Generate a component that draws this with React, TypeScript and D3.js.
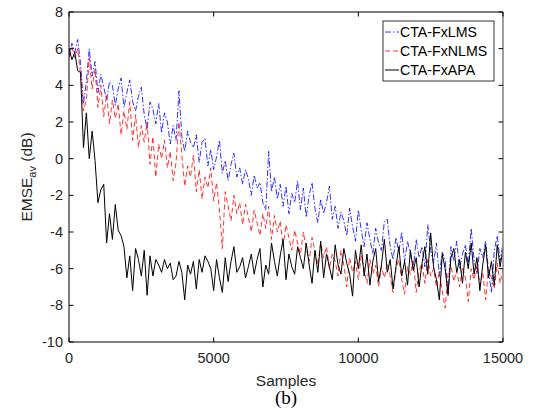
import React from "react";
import * as d3 from "d3";

// sampled every 100 samples, 0..15000
const STEP = 100;

const lmsValues = [
  5.5, 6.3, 5.8, 6.5, 5.2, 3.0, 4.2, 6.0, 4.5, 5.3,
  3.6, 4.6, 3.9, 3.2, 4.2, 4.0, 2.9, 3.8, 4.4, 2.8,
  3.6, 4.3, 3.1, 2.6, 3.4, 3.9, 2.4, 1.6, 3.1, 2.7,
  1.9, 3.0, 1.4, 2.5, 2.0, 0.8, 1.8, 1.0, 3.7, 1.2,
  0.4, 1.5, 0.9, 0.6, 1.3, -0.2, 0.9, 1.1, -0.4, 0.5,
  -0.6, 0.1, 1.0, -0.8, -0.1, -1.2, -0.3, 0.3, -1.0, -0.5,
  -1.4, -0.6, -1.1, -2.0, -0.9, -1.6, -1.3, -2.4, -2.8, 0.4,
  -1.8, -1.0, -2.2, -1.4, -2.6, -1.5, -3.0, -1.9, -2.4, -1.2,
  -2.8, -1.6, -3.2, -2.0, -1.3, -2.7, -3.5, -2.2, -3.0, -2.4,
  -1.5, -3.3, -2.6, -3.8, -2.9, -3.4, -4.2, -2.7, -3.7, -4.5,
  -2.8, -3.9, -4.8, -3.5, -4.4, -5.2, -3.8, -4.6, -5.0, -3.4,
  -3.3, -4.8, -5.5, -4.3, -5.1, -4.0, -5.6, -4.5, -5.2, -6.0,
  -4.4, -5.4, -4.8, -5.9, -3.6, -5.0, -5.7, -4.6, -6.4, -5.1,
  -5.5, -7.5, -4.8, -5.6, -4.5, -6.0, -5.2, -4.7, -5.8, -3.8,
  -5.5, -6.3, -4.9, -5.4, -4.5, -6.1, -7.3, -5.0, -4.2, -5.6,
  -4.6,
];

const nlmsValues = [
  5.7, 6.1, 5.5, 6.0, 4.6, 2.6, 3.2, 5.5, 3.8, 4.9,
  2.8, 4.0, 2.3, 3.5, 1.9, 3.2, 2.2, 3.0, 1.3, 2.6,
  1.6, 3.1, 1.0, 2.4, 0.6, 1.8, 0.9, 2.0, -0.3, 1.2,
  -1.0, 0.8, 0.0, 1.0, -0.5, 0.4, -1.2, -0.2, 2.0, 0.2,
  -1.5, -0.4, -1.0, 0.2, -1.8, -0.6, -2.2, -1.0, -1.6, -0.5,
  -2.3, -1.3, -2.8, -4.9, -1.8, -2.6, -3.4, -2.0, -3.0, -2.4,
  -3.6, -2.5, -3.2, -4.0, -2.8, -3.5, -4.2, -3.0, -3.8, -2.6,
  -4.4, -3.1, -4.0, -3.4, -4.8, -3.6, -4.3, -5.0, -3.9, -4.6,
  -5.2, -4.0, -4.9, -5.6, -4.3, -5.0, -5.8, -4.6, -5.4, -4.8,
  -6.0, -5.2, -5.6, -6.4, -5.0, -5.8, -7.0, -5.4, -6.2, -5.6,
  -6.6, -5.3, -6.0, -6.8, -5.5, -6.3, -5.8, -7.0, -5.9, -6.5,
  -5.7, -6.4, -7.3, -6.0, -5.5, -6.6, -7.4, -5.9, -6.3, -5.6,
  -7.3, -6.1, -5.7, -6.8, -5.5, -6.4, -6.0, -7.0, -6.2, -7.2,
  -8.15, -6.3, -5.8, -6.7, -6.1, -7.0, -5.9, -6.5, -7.8, -6.0,
  -6.6, -5.8, -6.9, -6.2, -7.7, -6.0, -6.5, -7.1, -5.7, -6.8,
  -6.0,
];

const apaValues = [
  6.0, 5.4, 5.8, 4.8, 4.7, 0.6, 2.5, 0.0, 1.5, -0.1,
  -2.4, -1.7, -1.4, -4.6, -3.0, -4.4, -2.5, -3.9, -4.2, -4.8,
  -6.5, -5.3, -7.2, -4.9, -5.5, -6.4, -5.0, -7.45, -5.3, -6.4,
  -5.5, -5.8, -6.2, -5.5, -6.0, -5.7, -6.6, -6.4, -5.6, -6.2,
  -7.7, -5.8, -6.3, -5.6, -7.1, -5.5, -6.2, -5.3, -5.6, -6.0,
  -7.2, -5.5, -6.5, -7.3, -5.4, -6.7, -5.6, -4.8, -6.2, -5.9,
  -5.4, -6.5, -5.9, -5.2, -6.3, -5.5, -4.9, -7.0, -5.8, -6.3,
  -4.6, -5.6, -6.4, -5.3, -4.4, -6.6, -5.2, -5.9, -6.3, -4.8,
  -5.4, -6.0, -4.6, -5.8, -6.8, -5.0, -6.2, -4.5, -6.5, -5.2,
  -5.9, -6.6, -4.7, -5.8, -6.3, -4.9, -5.7, -6.3, -7.5, -5.0,
  -6.0, -4.7, -6.4, -5.2, -6.9, -5.6, -4.9, -6.7, -5.8, -4.4,
  -6.2, -5.5, -7.1, -5.9, -4.8, -6.4, -5.6, -6.9, -5.0, -6.1,
  -5.4, -7.0, -5.7, -4.8, -6.3, -4.05, -5.9, -6.6, -7.7, -5.2,
  -6.0, -7.4, -5.4, -4.9, -6.2, -5.5, -6.8, -5.1, -6.0, -4.6,
  -6.3, -5.4, -7.2, -5.8, -4.7, -6.5, -5.6, -6.9, -4.7, -5.9,
  -4.9,
];

const xTicks = [0, 5000, 10000, 15000];
const yTicks = [-10, -8, -6, -4, -2, 0, 2, 4, 6, 8];

const series = [
  { name: "CTA-FxLMS", values: lmsValues, color: "#0000ff", dash: "6,2,1.5,2", width: 0.8 },
  { name: "CTA-FxNLMS", values: nlmsValues, color: "#ff0000", dash: "5,3", width: 0.8 },
  { name: "CTA-FxAPA", values: apaValues, color: "#000000", dash: null, width: 1 },
];

const W = 536;
const H = 410;
const margin = { top: 12, right: 33, bottom: 68, left: 69 };
const font = "Liberation Sans, Arial, sans-serif";

export default function App() {
  const x = d3.scaleLinear().domain([0, 15000]).range([margin.left, W - margin.right]);
  const y = d3.scaleLinear().domain([-10, 8]).range([H - margin.bottom, margin.top]);

  const line = d3
    .line<number>()
    .x((_, i) => x(i * STEP))
    .y((d) => y(d));

  const x0 = margin.left;
  const x1 = W - margin.right;
  const y0 = H - margin.bottom;
  const y1 = margin.top;
  const tick = 4.5;

  const legX = 383;
  const legY = 21;

  return (
    <div style={{ position: "absolute", left: 0, top: 0 }}>
      <svg width={W} height={H} style={{ display: "block", background: "#fff" }}>
        <defs>
          <clipPath id="plot">
            <rect x={x0} y={y1} width={x1 - x0} height={y0 - y1} />
          </clipPath>
        </defs>

        <g clipPath="url(#plot)">
          {series.map((s) => (
            <path
              key={s.name}
              d={line(s.values) ?? ""}
              fill="none"
              stroke={s.color}
              strokeWidth={s.width}
              strokeDasharray={s.dash ?? undefined}
              strokeLinejoin="round"
            />
          ))}
        </g>

        {/* box */}
        <line x1={x0} y1={y1} x2={x1} y2={y1} stroke="#000" strokeWidth={1} />
        <line x1={x0} y1={y0} x2={x1} y2={y0} stroke="#000" strokeWidth={1} />
        <line x1={x0} y1={y1} x2={x0} y2={y0} stroke="#000" strokeWidth={1} />
        <line x1={x1} y1={y1} x2={x1} y2={y0} stroke="#888" strokeWidth={1.6} />

        {xTicks.map((t) => (
          <g key={"x" + t}>
            <line x1={x(t)} x2={x(t)} y1={y0} y2={y0 - tick} stroke="#000" />
            <line x1={x(t)} x2={x(t)} y1={y1} y2={y1 + tick} stroke="#000" />
            <text x={x(t)} y={y0 + 21} textAnchor="middle" fontFamily={font} fontSize={14.5} fill="#262626">
              {t}
            </text>
          </g>
        ))}

        {yTicks.map((t) => (
          <g key={"y" + t}>
            <line x1={x0} x2={x0 + tick} y1={y(t)} y2={y(t)} stroke="#000" />
            <line x1={x1} x2={x1 - tick} y1={y(t)} y2={y(t)} stroke="#000" />
            <text x={x0 - 6} y={y(t) + 5} textAnchor="end" fontFamily={font} fontSize={14.5} fill="#262626">
              {t}
            </text>
          </g>
        ))}

        <text x={(x0 + x1) / 2} y={386} textAnchor="middle" fontFamily={font} fontSize={15.5} fill="#262626">
          Samples
        </text>
        <text
          transform={`translate(32, ${(y0 + y1) / 2}) rotate(-90)`}
          textAnchor="middle"
          fontFamily={font}
          fontSize={15.5}
          fill="#262626"
        >
          EMSE
          <tspan fontSize={11} dy={4}>av</tspan>
          <tspan dy={-4}> (dB)</tspan>
        </text>

        <text x={(x0 + x1) / 2} y={404} textAnchor="middle" fontFamily="Liberation Serif, Times New Roman, serif" fontSize={19}>
          (b)
        </text>

        {/* legend */}
        <rect x={legX} y={legY} width={111} height={60} fill="#fff" stroke="#000" strokeWidth={0.8} />
        {series.map((s, i) => {
          const ly = legY + 11 + i * 19;
          return (
            <g key={"leg" + s.name}>
              <line
                x1={legX + 2}
                x2={legX + 16}
                y1={ly}
                y2={ly}
                stroke={s.color}
                strokeWidth={s.width}
                strokeDasharray={s.dash ?? undefined}
              />
              <text x={legX + 17} y={ly + 5} fontFamily={font} fontSize={14.2} fill="#000">
                {s.name}
              </text>
            </g>
          );
        })}
      </svg>
    </div>
  );
}
